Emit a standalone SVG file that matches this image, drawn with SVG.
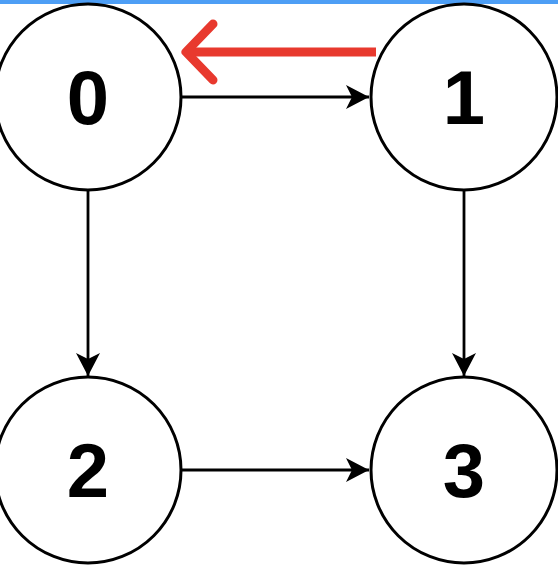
<svg xmlns="http://www.w3.org/2000/svg" width="558" height="566" viewBox="0 0 558 566">
<style>
.node circle{fill:#fff;stroke:#000;stroke-width:3}
.node text{font-family:"Liberation Sans",Arial,sans-serif;font-weight:bold;font-size:76px;text-anchor:middle;fill:#000}
.edge{stroke:#000;stroke-width:2.8;fill:none}
.red{stroke:#e8392e;stroke-width:9;fill:none}
</style>
<defs>
<marker id="ah" markerUnits="userSpaceOnUse" viewBox="-25 -13 26 26" refX="0" refY="0" markerWidth="26" markerHeight="26" orient="auto">
<path d="M0,0 L-23,-12 L-17,0 L-23,12 Z" fill="#000"/>
</marker>
</defs>
<rect x="0" y="0" width="558" height="4" fill="#4d9ef5"/>
<g id="connectors">
<line class="edge" x1="182" y1="97" x2="369" y2="97" marker-end="url(#ah)"/>
<line class="edge" x1="88" y1="190" x2="88" y2="376" marker-end="url(#ah)"/>
<line class="edge" x1="464" y1="190" x2="464" y2="376" marker-end="url(#ah)"/>
<line class="edge" x1="182" y1="470" x2="369" y2="470" marker-end="url(#ah)"/>
<g id="red-arrow">
<line class="red" x1="188" y1="52" x2="376" y2="52"/>
<polyline class="red" points="213,24 186,52 213,80" stroke-linecap="round" stroke-linejoin="round"/>
</g>
</g>
<g id="node0" class="node"><circle cx="88" cy="97" r="93"/><text x="88" y="124">0</text></g>
<g id="node1" class="node"><circle cx="464" cy="97" r="93"/><text x="464" y="124">1</text></g>
<g id="node2" class="node"><circle cx="88" cy="470" r="93"/><text x="88" y="497">2</text></g>
<g id="node3" class="node"><circle cx="464" cy="470" r="93"/><text x="464" y="497">3</text></g>
</svg>
